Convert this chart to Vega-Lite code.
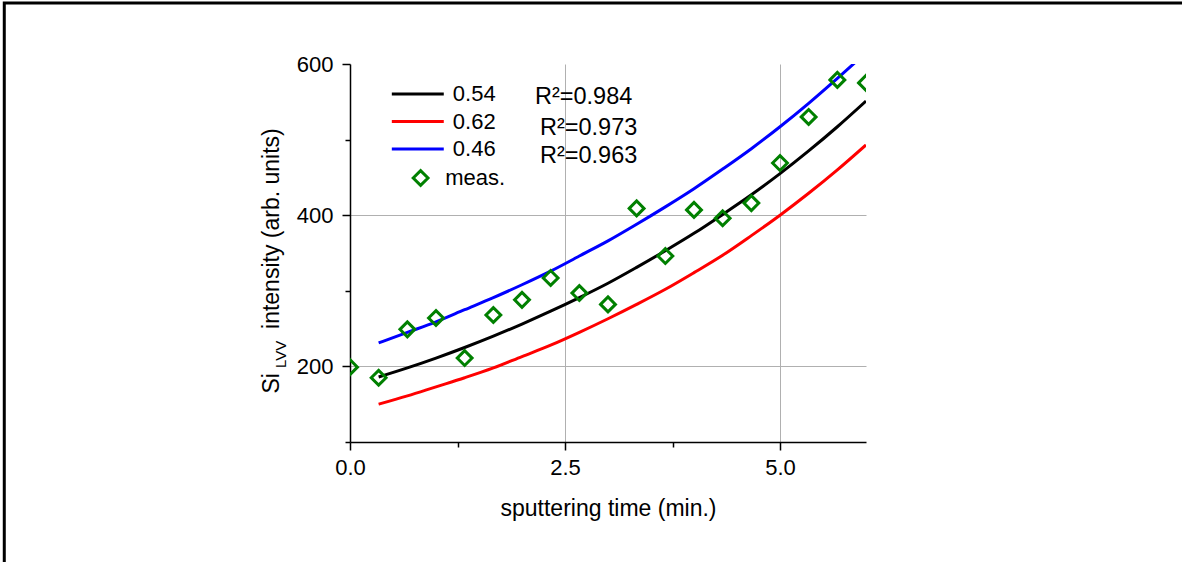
{
  "$schema": "https://vega.github.io/schema/vega-lite/v6.json",
  "width": 516,
  "height": 378,
  "autosize": {"type": "none"},
  "padding": {"left": 350, "top": 64, "right": 316, "bottom": 120},
  "background": "white",
  "config": {
    "view": {"stroke": null},
    "font": "Liberation Sans",
    "text": {"font": "Liberation Sans"},
    "legend": {"labelFont": "Liberation Sans"},
    "axis": {"labelFont": "Liberation Sans", "titleFont": "Liberation Sans"}
  },
  "encoding": {
    "x": {
      "field": "x", "type": "quantitative",
      "scale": {"domain": [0, 6], "nice": false, "zero": false},
      "axis": {
        "title": "sputtering time (min.)",
        "values": [0, 1.25, 2.5, 3.75, 5],
        "format": ".1f",
        "labelExpr": "datum.value % 2.5 === 0 ? datum.label : ''",
        "labelFontSize": 22, "labelColor": "#000000", "labelPadding": 7,
        "labelOverlap": false, "labelFlush": false,
        "tickSize": {"condition": {"test": "datum.value % 2.5 !== 0", "value": 5}, "value": 8},
        "tickColor": "#000000", "tickWidth": 1.5,
        "domainColor": "#000000", "domainWidth": 1.5,
        "grid": true, "gridColor": "#b0b0b0", "gridWidth": 1,
        "gridOpacity": {"condition": {"test": "datum.value === 2.5 || datum.value === 5", "value": 1}, "value": 0},
        "titleFontSize": 23, "titleFontWeight": "normal", "titleColor": "#000000", "titlePadding": 19
      }
    },
    "y": {
      "field": "y", "type": "quantitative",
      "scale": {"domain": [100, 600], "nice": false, "zero": false},
      "axis": {
        "title": null,
        "values": [100, 200, 300, 400, 500, 600],
        "labelExpr": "datum.value % 200 === 0 ? datum.label : ''",
        "labelFontSize": 22, "labelColor": "#000000", "labelPadding": 9,
        "labelOverlap": false, "labelFlush": false,
        "tickSize": {"condition": {"test": "datum.value % 200 !== 0", "value": 5}, "value": 8},
        "tickColor": "#000000", "tickWidth": 1.5,
        "domainColor": "#000000", "domainWidth": 1.5,
        "grid": true, "gridColor": "#b0b0b0", "gridWidth": 1,
        "gridOpacity": {"condition": {"test": "datum.value === 200 || datum.value === 400", "value": 1}, "value": 0}
      }
    }
  },
  "layer": [
    {
      "data": {"values": [
        {"x": -4.02, "x2": 9.95, "y": 680.7, "y2": -90}
      ]},
      "mark": {"type": "rect", "fill": null, "fillOpacity": 0, "stroke": "#000000", "strokeWidth": 3},
      "encoding": {"x2": {"field": "x2"}, "y2": {"field": "y2"}}
    },
    {
      "data": {"values": [
        {"series": "0.54", "x": 0.333, "y": 186}, {"series": "0.54", "x": 0.667, "y": 198}, {"series": "0.54", "x": 1, "y": 211},
        {"series": "0.54", "x": 1.333, "y": 225}, {"series": "0.54", "x": 1.667, "y": 240}, {"series": "0.54", "x": 2, "y": 256},
        {"series": "0.54", "x": 2.333, "y": 273}, {"series": "0.54", "x": 2.667, "y": 291}, {"series": "0.54", "x": 3, "y": 310},
        {"series": "0.54", "x": 3.333, "y": 331}, {"series": "0.54", "x": 3.667, "y": 353}, {"series": "0.54", "x": 4, "y": 376},
        {"series": "0.54", "x": 4.333, "y": 401}, {"series": "0.54", "x": 4.667, "y": 427}, {"series": "0.54", "x": 5, "y": 455},
        {"series": "0.54", "x": 5.333, "y": 485}, {"series": "0.54", "x": 5.667, "y": 517}, {"series": "0.54", "x": 6, "y": 551},
        {"series": "0.62", "x": 0.333, "y": 150}, {"series": "0.62", "x": 0.667, "y": 161}, {"series": "0.62", "x": 1, "y": 173},
        {"series": "0.62", "x": 1.333, "y": 185}, {"series": "0.62", "x": 1.667, "y": 198}, {"series": "0.62", "x": 2, "y": 213},
        {"series": "0.62", "x": 2.333, "y": 228}, {"series": "0.62", "x": 2.667, "y": 245}, {"series": "0.62", "x": 3, "y": 263},
        {"series": "0.62", "x": 3.333, "y": 282}, {"series": "0.62", "x": 3.667, "y": 302}, {"series": "0.62", "x": 4, "y": 324},
        {"series": "0.62", "x": 4.333, "y": 347}, {"series": "0.62", "x": 4.667, "y": 373}, {"series": "0.62", "x": 5, "y": 400},
        {"series": "0.62", "x": 5.333, "y": 429}, {"series": "0.62", "x": 5.667, "y": 460}, {"series": "0.62", "x": 6, "y": 493},
        {"series": "0.46", "x": 0.333, "y": 231}, {"series": "0.46", "x": 0.667, "y": 245}, {"series": "0.46", "x": 1, "y": 259},
        {"series": "0.46", "x": 1.333, "y": 275}, {"series": "0.46", "x": 1.667, "y": 291}, {"series": "0.46", "x": 2, "y": 308},
        {"series": "0.46", "x": 2.333, "y": 326}, {"series": "0.46", "x": 2.667, "y": 346}, {"series": "0.46", "x": 3, "y": 366},
        {"series": "0.46", "x": 3.333, "y": 388}, {"series": "0.46", "x": 3.667, "y": 411}, {"series": "0.46", "x": 4, "y": 435},
        {"series": "0.46", "x": 4.333, "y": 461}, {"series": "0.46", "x": 4.667, "y": 488}, {"series": "0.46", "x": 5, "y": 517},
        {"series": "0.46", "x": 5.333, "y": 548}, {"series": "0.46", "x": 5.667, "y": 581}, {"series": "0.46", "x": 6, "y": 615}
      ]},
      "mark": {"type": "line", "strokeWidth": 3, "interpolate": "monotone", "clip": true},
      "encoding": {
        "color": {
          "field": "series", "type": "nominal",
          "scale": {"domain": ["0.54", "0.62", "0.46"], "range": ["#000000", "#ff0000", "#0000ff"]},
          "legend": {
            "title": null, "orient": "none", "legendX": 56.8, "legendY": 19,
            "symbolType": "M-5,0H5", "symbolSize": 108, "symbolStrokeWidth": 3,
            "labelFontSize": 22, "labelColor": "#000000", "labelOffset": 24, "rowPadding": 5.5, "padding": 0
          }
        }
      }
    },
    {
      "data": {"values": [
        {"kind": "meas.", "x": 0, "y": 199}, {"kind": "meas.", "x": 0.333, "y": 185}, {"kind": "meas.", "x": 0.667, "y": 249},
        {"kind": "meas.", "x": 1, "y": 264}, {"kind": "meas.", "x": 1.333, "y": 211}, {"kind": "meas.", "x": 1.667, "y": 268},
        {"kind": "meas.", "x": 2, "y": 288}, {"kind": "meas.", "x": 2.333, "y": 317}, {"kind": "meas.", "x": 2.667, "y": 297},
        {"kind": "meas.", "x": 3, "y": 282}, {"kind": "meas.", "x": 3.333, "y": 409}, {"kind": "meas.", "x": 3.667, "y": 346},
        {"kind": "meas.", "x": 4, "y": 407}, {"kind": "meas.", "x": 4.333, "y": 396}, {"kind": "meas.", "x": 4.667, "y": 416},
        {"kind": "meas.", "x": 5, "y": 469}, {"kind": "meas.", "x": 5.333, "y": 530}, {"kind": "meas.", "x": 5.667, "y": 579},
        {"kind": "meas.", "x": 6, "y": 575}
      ]},
      "mark": {"type": "point", "filled": false, "color": "#008000", "strokeWidth": 3, "size": 220, "opacity": 1, "clip": true},
      "encoding": {
        "shape": {
          "field": "kind", "type": "nominal",
          "scale": {"domain": ["meas."], "range": ["diamond"]},
          "legend": {
            "title": null, "orient": "none", "legendX": 59.6, "legendY": 103,
            "symbolSize": 220, "symbolStrokeWidth": 3, "symbolStrokeColor": "#008000", "symbolFillColor": "transparent",
            "symbolOpacity": 1,
            "labelFontSize": 22, "labelColor": "#000000", "labelOffset": 13.6, "padding": 0
          }
        }
      }
    },
    {
      "data": {"values": [
        {"label": "R²=0.984", "x": 2.151, "y": 556},
        {"label": "R²=0.973", "x": 2.209, "y": 515},
        {"label": "R²=0.963", "x": 2.209, "y": 478}
      ]},
      "mark": {"type": "text", "align": "left", "baseline": "middle", "fontSize": 23.5, "color": "#000000"},
      "encoding": {"text": {"field": "label"}}
    },
    {
      "data": {"values": [{"label": "Si", "x": -0.8256, "y": 164}, {"label": "intensity (arb. units)", "x": -0.8256, "y": 249.5}]},
      "mark": {"type": "text", "align": "left", "baseline": "alphabetic", "angle": 270, "fontSize": 23, "color": "#000000"},
      "encoding": {"text": {"field": "label"}}
    },
    {
      "data": {"values": [{"label": "LVV", "x": -0.744, "y": 198}]},
      "mark": {"type": "text", "align": "left", "baseline": "alphabetic", "angle": 270, "fontSize": 15, "color": "#000000"},
      "encoding": {"text": {"field": "label"}}
    }
  ]
}
